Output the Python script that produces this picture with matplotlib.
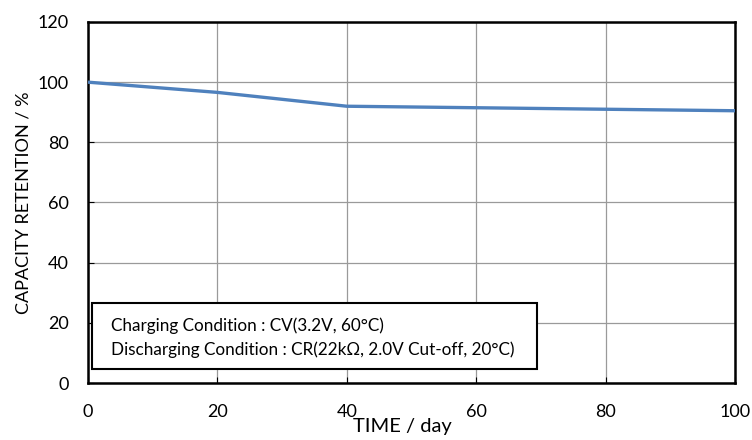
import matplotlib
matplotlib.use("Agg")
import matplotlib.pyplot as plt
from matplotlib.patches import Rectangle

plt.rcParams['font.family'] = ['Lato', 'DejaVu Sans']

days = [0, 20, 40, 60, 80, 100]
retention = [100, 96.6, 92.0, 91.5, 91.0, 90.5]

fig = plt.figure(figsize=(7.52, 4.4), dpi=100)
ax = fig.add_axes([88/752, 1 - 383/440, (735 - 88)/752, (383 - 22)/440])

ax.plot(days, retention, color='#4F81BD', linewidth=2.4, solid_capstyle='butt', zorder=3)

ax.set_xlim(0, 100)
ax.set_ylim(0, 120)
ax.set_xticks([0, 20, 40, 60, 80, 100])
ax.set_yticks([0, 20, 40, 60, 80, 100, 120])
ax.grid(True, color='#9a9a9a', linewidth=0.9)
ax.set_axisbelow(True)
ax.tick_params(direction='in', length=4, labelsize=13)
ax.tick_params(axis='x', pad=15)
ax.tick_params(axis='y', pad=14)
for s in ax.spines.values():
    s.set_linewidth(1.8)
    s.set_color('black')

ax.set_xlabel('TIME / day', fontsize=14.5, labelpad=-1)
ax.xaxis.label.set_x(0.486)
ax.set_ylabel('CAPACITY RETENTION / %', fontsize=13, labelpad=4)

# condition box
box = Rectangle((92/752, 1 - 369/440), (537 - 92)/752, (369 - 303)/440,
                transform=fig.transFigure, facecolor='white', edgecolor='black',
                linewidth=1.5, zorder=5)
fig.patches.append(box)
fig.text(111/752, 1 - 326/440, 'Charging Condition : CV(3.2V, 60\u00b0C)',
         fontsize=12.3, va='center', ha='left', zorder=6)
fig.text(111/752, 1 - 350/440, 'Discharging Condition : CR(22k\u03a9, 2.0V Cut-off, 20\u00b0C)',
         fontsize=12.3, va='center', ha='left', zorder=6)

fig.savefig('out.png', dpi=100)
